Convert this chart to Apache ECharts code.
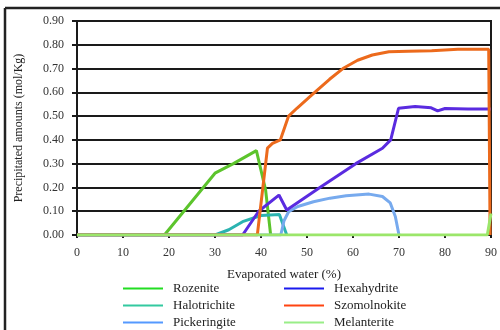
<!DOCTYPE html>
<html>
<head>
<meta charset="utf-8">
<script src="https://cdn.jsdelivr.net/npm/echarts@6/dist/echarts.min.js"></script>
<style>
  html, body { margin: 0; padding: 0; background: #fff; }
  #chart { width: 500px; height: 330px; }
</style>
</head>
<body>
<div id="chart"></div>
<script>
// Evaporated water (%) vs precipitated amount (mol/Kg), one [x, y] list per mineral
const rozenite = [[0, 0], [19, 0], [30, 0.26], [34, 0.30], [39, 0.355], [41, 0.19], [42.1, 0]];
const halotrichite = [[0, 0], [30, 0], [33, 0.022], [36, 0.056], [40, 0.082], [44, 0.086], [45.6, 0]];
const pickeringite = [[0, 0], [44.3, 0], [45, 0.06], [46, 0.098], [48, 0.12], [51.4, 0.14], [55, 0.155],
  [58.5, 0.165], [63.5, 0.172], [66.4, 0.162], [68.1, 0.135], [69.2, 0.078], [70, 0]];
const hexahydrite = [[0, 0], [36, 0], [39.5, 0.10], [43.9, 0.168], [45.6, 0.105], [52.8, 0.20],
  [60.6, 0.30], [66.4, 0.365], [68.2, 0.40], [69.9, 0.533], [73.5, 0.54], [77, 0.535], [78.4, 0.522],
  [80, 0.532], [85, 0.53], [90, 0.53]];
const szomolnokite = [[0, 0], [39.2, 0], [41.4, 0.365], [42.5, 0.385], [44.2, 0.40], [46, 0.50],
  [47.8, 0.533], [51, 0.588], [54.9, 0.655], [57.8, 0.70], [61, 0.735], [64.2, 0.757], [67.8, 0.771],
  [72, 0.773], [77.1, 0.775], [82.8, 0.781], [89.5, 0.781], [89.8, 0]];
const melanterite = [[0, 0], [89.2, 0], [90, 0.09]];

const xTicks = { min: 0, max: 90, step: 10 };
const yTicks = { min: 0, max: 0.9, step: 0.1 };

const series = [
  { name: 'Rozenite', color: '#5cc42c', legend: '#22dd22', data: rozenite },
  { name: 'Halotrichite', color: '#2bb3b0', legend: '#33c9a0', data: halotrichite },
  { name: 'Pickeringite', color: '#77aaee', legend: '#5599ff', data: pickeringite },
  { name: 'Hexahydrite', color: '#5a2be0', legend: '#1a1aee', data: hexahydrite },
  { name: 'Szomolnokite', color: '#ec6a1c', legend: '#ff4411', data: szomolnokite },
  { name: 'Melanterite', color: '#9be66a', legend: '#99ee88', data: melanterite }
];

const font = "'Liberation Serif', 'DejaVu Serif', serif";
const ink = '#1a1a1a';

const chart = echarts.init(document.getElementById('chart'), null, { renderer: 'canvas' });

function legendBlock(names, left) {
  return {
    orient: 'vertical',
    left: left,
    top: 282,
    padding: 0,
    itemWidth: 40,
    itemHeight: 12,
    itemGap: 4,
    icon: 'path://M0,5 L40,5 L40,7 L0,7 Z',
    textStyle: { fontFamily: font, fontSize: 13, color: '#222', padding: [0, 0, 0, 5] },
    data: names.map(n => {
      const s = series.find(v => v.name === n);
      return { name: n, itemStyle: { color: s.legend } };
    }),
    selectedMode: false
  };
}

chart.setOption({
  animation: false,
  backgroundColor: '#fff',
  textStyle: { fontFamily: font },
  grid: { left: 77, right: 3, top: 21, bottom: 95, show: true, borderColor: ink, borderWidth: 2, backgroundColor: 'transparent' },
  legend: [
    legendBlock(['Rozenite', 'Halotrichite', 'Pickeringite'], 123),
    legendBlock(['Hexahydrite', 'Szomolnokite', 'Melanterite'], 284)
  ],
  xAxis: {
    type: 'value',
    min: xTicks.min, max: xTicks.max, interval: xTicks.step,
    name: 'Evaporated water (%)',
    nameLocation: 'middle',
    nameGap: 33,
    nameTextStyle: { fontFamily: font, fontSize: 13, color: '#222' },
    axisLine: { show: true, lineStyle: { color: ink, width: 2 } },
    axisTick: { show: true, length: 3, lineStyle: { color: ink, width: 2 } },
    axisLabel: { fontFamily: font, fontSize: 12, color: '#333', margin: 12 },
    splitLine: { show: false }
  },
  yAxis: {
    type: 'value',
    min: yTicks.min, max: yTicks.max, interval: yTicks.step,
    name: 'Precipitated amounts (mol/Kg)',
    nameLocation: 'middle',
    nameGap: 52,
    nameTextStyle: { fontFamily: font, fontSize: 12, color: '#222' },
    axisLine: { show: true, lineStyle: { color: ink, width: 2 } },
    axisTick: { show: true, length: 5, lineStyle: { color: ink, width: 2 } },
    axisLabel: { fontFamily: font, fontSize: 12, color: '#333', margin: 13, formatter: v => v.toFixed(2) },
    splitLine: { show: true, lineStyle: { color: ink, width: 2 } }
  },
  graphic: [
    { type: 'line', shape: { x1: 5, y1: 8, x2: 5, y2: 330 }, style: { stroke: '#222', lineWidth: 2.5 } },
    { type: 'line', shape: { x1: 5, y1: 8, x2: 500, y2: 8 }, style: { stroke: '#222', lineWidth: 2.5 } }
  ],
  series: series.map((s, i) => ({
    name: s.name,
    type: 'line',
    data: s.data,
    showSymbol: false,
    symbol: 'none',
    color: s.legend,
    lineStyle: { color: s.color, width: 3 },
    z: 3 + i
  }))
});
</script>
</body>
</html>
